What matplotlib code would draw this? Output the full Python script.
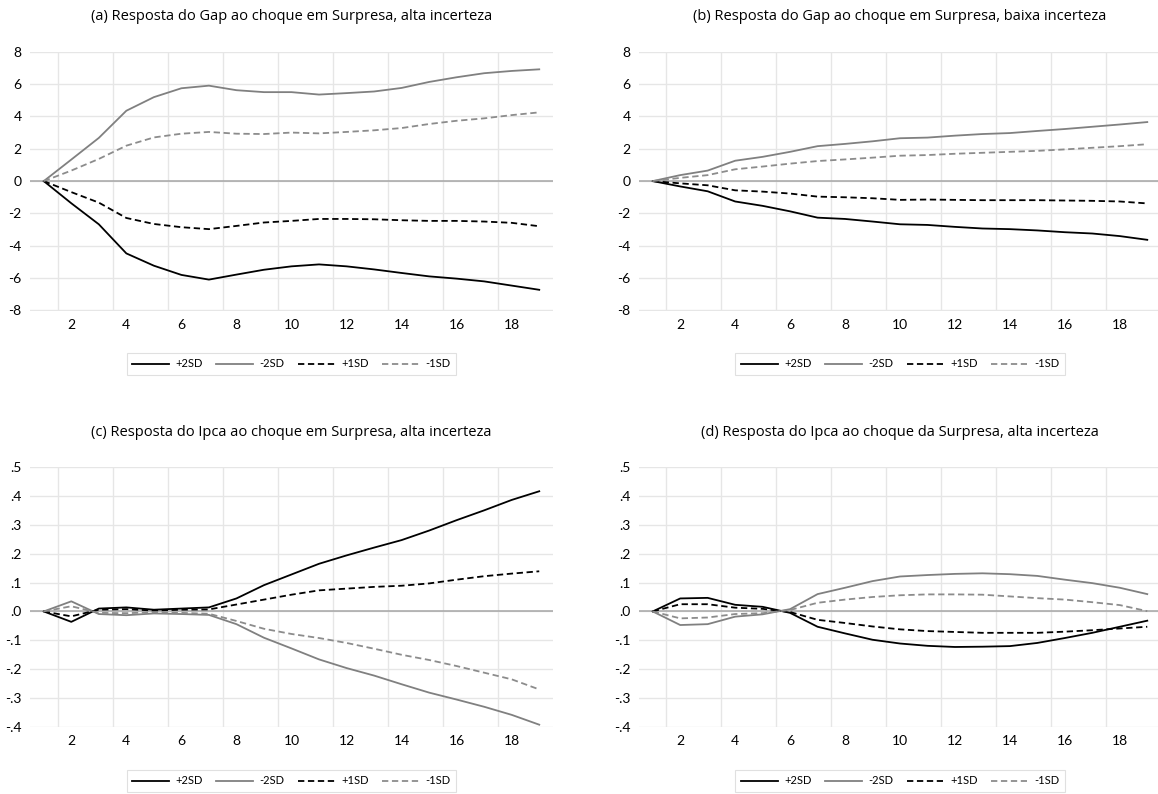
import matplotlib
matplotlib.use("Agg")
import matplotlib.pyplot as plt
from matplotlib.ticker import FuncFormatter

plt.rcParams['font.family'] = ['Lato', 'DejaVu Sans']

periods = list(range(1, 20))
labels = ["+2SD", "-2SD", "+1SD", "-1SD"]

# (a) Gap, alta incerteza
gap_alta_p2 = [0, -1.37, -2.67, -4.47, -5.23, -5.80, -6.09, -5.78, -5.48, -5.27,
               -5.15, -5.27, -5.46, -5.68, -5.89, -6.03, -6.20, -6.46, -6.72]
gap_alta_m2 = [0, 1.33, 2.67, 4.35, 5.19, 5.74, 5.90, 5.62, 5.50, 5.50,
               5.35, 5.44, 5.54, 5.76, 6.13, 6.42, 6.67, 6.81, 6.91]
gap_alta_p1 = [0, -0.68, -1.33, -2.28, -2.65, -2.85, -2.97, -2.77, -2.56, -2.46,
               -2.34, -2.34, -2.36, -2.42, -2.46, -2.46, -2.50, -2.58, -2.79]
gap_alta_m1 = [0, 0.65, 1.37, 2.19, 2.70, 2.93, 3.04, 2.93, 2.91, 3.00,
               2.95, 3.04, 3.14, 3.28, 3.53, 3.73, 3.88, 4.08, 4.25]

# (b) Gap, baixa incerteza
gap_baixa_p2 = [0, -0.33, -0.63, -1.26, -1.53, -1.87, -2.26, -2.34, -2.50, -2.67,
                -2.71, -2.83, -2.93, -2.97, -3.05, -3.16, -3.24, -3.40, -3.63]
gap_baixa_m2 = [0, 0.37, 0.65, 1.26, 1.50, 1.81, 2.16, 2.30, 2.46, 2.65,
                2.69, 2.81, 2.91, 2.97, 3.10, 3.22, 3.36, 3.50, 3.65]
gap_baixa_p1 = [0, -0.14, -0.26, -0.57, -0.65, -0.77, -0.96, -1.00, -1.06, -1.16,
                -1.14, -1.16, -1.18, -1.18, -1.18, -1.20, -1.22, -1.26, -1.38]
gap_baixa_m1 = [0, 0.20, 0.37, 0.73, 0.90, 1.08, 1.24, 1.34, 1.45, 1.57,
                1.61, 1.69, 1.75, 1.81, 1.87, 1.96, 2.06, 2.16, 2.28]

# (c) Ipca, alta incerteza
ipca_c_p2 = [0, -0.036, 0.010, 0.014, 0.006, 0.010, 0.014, 0.045, 0.091, 0.128,
             0.165, 0.194, 0.221, 0.247, 0.280, 0.316, 0.350, 0.386, 0.416]
ipca_c_m2 = [0, 0.035, -0.009, -0.013, -0.007, -0.009, -0.012, -0.044, -0.091, -0.128,
             -0.166, -0.196, -0.222, -0.252, -0.281, -0.305, -0.330, -0.358, -0.392]
ipca_c_p1 = [0, -0.017, 0.006, 0.008, 0.003, 0.006, 0.007, 0.024, 0.041, 0.058,
             0.073, 0.079, 0.085, 0.089, 0.097, 0.110, 0.122, 0.131, 0.139]
ipca_c_m1 = [0, 0.018, -0.005, -0.006, -0.003, -0.005, -0.008, -0.033, -0.060, -0.078,
             -0.092, -0.109, -0.129, -0.150, -0.168, -0.189, -0.212, -0.235, -0.270]

# (d) Ipca, alta incerteza (choque da Surpresa)
ipca_d_p2 = [0, 0.045, 0.047, 0.023, 0.016, -0.005, -0.053, -0.076, -0.098, -0.111,
             -0.119, -0.123, -0.122, -0.120, -0.109, -0.092, -0.074, -0.053, -0.032]
ipca_d_m2 = [0, -0.047, -0.044, -0.018, -0.010, 0.008, 0.060, 0.082, 0.105, 0.121,
             0.126, 0.130, 0.132, 0.129, 0.123, 0.110, 0.098, 0.082, 0.060]
ipca_d_p1 = [0, 0.025, 0.025, 0.013, 0.009, -0.002, -0.029, -0.040, -0.052, -0.062,
             -0.068, -0.071, -0.074, -0.074, -0.074, -0.070, -0.065, -0.059, -0.053]
ipca_d_m1 = [0, -0.024, -0.021, -0.009, -0.006, 0.005, 0.030, 0.041, 0.050, 0.056,
             0.059, 0.059, 0.058, 0.052, 0.046, 0.041, 0.032, 0.022, 0.001]

titles = [
    "(a) Resposta do Gap ao choque em Surpresa, alta incerteza",
    "(b) Resposta do Gap ao choque em Surpresa, baixa incerteza",
    "(c) Resposta do Ipca ao choque em Surpresa, alta incerteza",
    "(d) Resposta do Ipca ao choque da Surpresa, alta incerteza",
]

W, H = 1158, 794
fig = plt.figure(figsize=(W / 100, H / 100), dpi=100)

# left, right, top, bottom in pixels
boxes = [(30, 553, 51.7, 310.5), (639, 1161, 51.7, 310.5),
         (30, 553, 467, 727), (639, 1161, 467, 727)]
title_y = [16, 16, 433, 433]
legend_y = [364, 364, 781, 781]

panels = [
    (gap_alta_p2, gap_alta_m2, gap_alta_p1, gap_alta_m1),
    (gap_baixa_p2, gap_baixa_m2, gap_baixa_p1, gap_baixa_m1),
    (ipca_c_p2, ipca_c_m2, ipca_c_p1, ipca_c_m1),
    (ipca_d_p2, ipca_d_m2, ipca_d_p1, ipca_d_m1),
]

styles = [
    dict(color="black", ls="-"),
    dict(color="#808080", ls="-"),
    dict(color="black", ls=(0, (3.5, 2))),
    dict(color="#8c8c8c", ls=(0, (3.5, 2))),
]


def gap_fmt(v, pos):
    return "%d" % round(v)


def ipca_fmt(v, pos):
    s = "%.1f" % v
    if s.startswith("-0"):
        s = "-" + s[2:]
    elif s.startswith("0"):
        s = s[1:]
    return s


for k, (series, box) in enumerate(zip(panels, boxes)):
    l, r, t, b = box
    ax = fig.add_axes([l / W, 1 - b / H, (r - l) / W, (b - t) / H])
    for spine in ax.spines.values():
        spine.set_visible(False)
    ax.set_xlim(0.5, 19.5)
    if k < 2:
        ax.set_ylim(-8, 8)
        ax.set_yticks(range(-8, 9, 2))
        ax.yaxis.set_major_formatter(FuncFormatter(gap_fmt))
    else:
        ax.set_ylim(-0.4, 0.5)
        ax.set_yticks([-0.4, -0.3, -0.2, -0.1, 0.0, 0.1, 0.2, 0.3, 0.4, 0.5])
        ax.yaxis.set_major_formatter(FuncFormatter(ipca_fmt))
    ax.set_xticks(range(2, 19, 2))
    ax.set_xticks([x + 0.5 for x in range(1, 18, 2)], minor=True)
    ax.tick_params(which="both", length=0, labelsize=10, colors="black")
    ax.tick_params(axis="y", pad=6)
    ax.tick_params(axis="x", pad=6)
    ax.grid(True, which="minor", axis="x", color="#e6e6e6", lw=1)
    ax.grid(True, which="major", axis="y", color="#e6e6e6", lw=1)
    ax.grid(False, which="major", axis="x")
    ax.axhline(0, color="#a6a6a6", lw=1.1, zorder=1)
    ax.set_axisbelow(True)
    handles = []
    for vals, st, lab in zip(series, styles, labels):
        h, = ax.plot(periods, vals, lw=1.3, label=lab, zorder=3, **st)
        handles.append(h)
    cx = (l + r) / 2
    fig.text(cx / W, 1 - title_y[k] / H, titles[k], ha="center", va="center",
             fontsize=10.5, family=["Open Sans", "DejaVu Sans"])
    leg = fig.legend(handles=handles, labels=labels, loc="center",
                     bbox_to_anchor=(cx / W, 1 - legend_y[k] / H), ncol=4,
                     fontsize=8, frameon=True, fancybox=False, handlelength=3.3,
                     handletextpad=0.6, columnspacing=1.2, borderpad=0.5)
    leg.get_frame().set_edgecolor("#d9d9d9")
    leg.get_frame().set_linewidth(0.8)

fig.savefig("out.png", dpi=100)
